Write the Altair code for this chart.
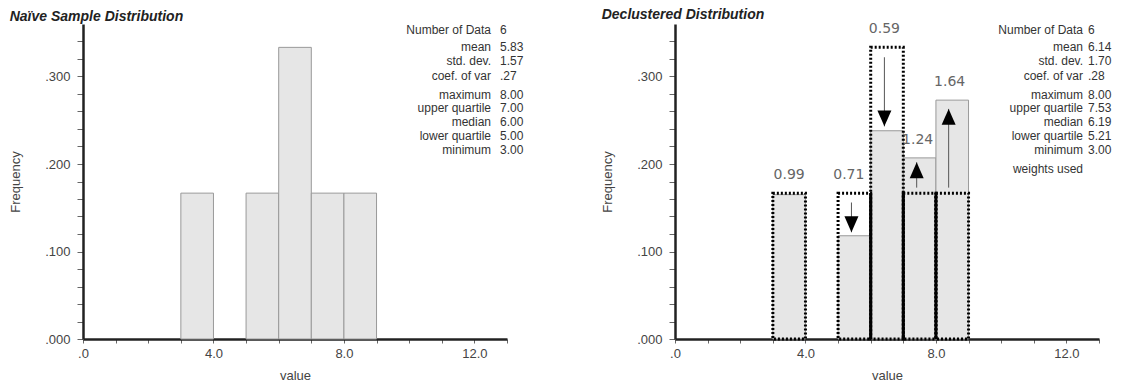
import altair as alt
import pandas as pd

# ---------------- data ----------------
bin_lo = [3, 5, 6, 7, 8]
bin_hi = [4, 6, 7, 8, 9]
naive_freq = [0.1667, 0.1667, 0.3333, 0.1667, 0.1667]
declus_freq = [0.165, 0.118, 0.238, 0.207, 0.273]
weight_text = ["0.99", "0.71", "0.59", "1.24", "1.64"]
weight_x = [3.50, 5.33, 6.42, 7.44, 8.42]

arrow_x = [5.41, 6.42, 7.41, 8.39]
arrow_from = [0.156, 0.322, 0.173, 0.173]
arrow_to = [0.122, 0.243, 0.202, 0.263]

stat_names = ["Number of Data", "mean", "std. dev.", "coef. of var", "maximum",
              "upper quartile", "median", "lower quartile", "minimum"]
naive_stats = ["6", "5.83", "1.57", ".27", "8.00", "7.00", "6.00", "5.00", "3.00"]
declus_stats = ["6", "6.14", "1.70", ".28", "8.00", "7.53", "6.19", "5.21", "3.00"]

# ---------------- layout constants ----------------
ROW_Y = [5.7, 23.3, 37.3, 51.7, 71, 84.3, 97.7, 111.7, 126, 145]  # px below plot top
H = 315
W = 424
Y_MAX = 0.36
FONT = "Liberation Sans"

x_ticks = list(range(14))
y_ticks = [round(i * 0.02, 2) for i in range(18)]

axis_common = dict(
    domainColor="#222", domainWidth=2.5, tickColor="#666", labelColor="#444",
    titleColor="#444", labelFontSize=13, titleFontSize=13, titleFontWeight="normal",
    grid=False, labelOverlap=False, labelFont=FONT, titleFont=FONT,
)
x_axis = alt.Axis(
    values=x_ticks,
    labelExpr="datum.value % 4 == 0 ? (datum.value == 0 ? '.0' : format(datum.value, '.1f')) : ''",
    title="value", tickSize=4, labelPadding=4, titlePadding=9, labelFlush=False,
    **axis_common,
)
y_axis = alt.Axis(
    values=y_ticks,
    labelExpr="abs(datum.value * 10 - round(datum.value * 10)) < 0.000001 ? substring(format(datum.value, '.3f'), 1) : ''",
    title="Frequency", tickSize=6, labelPadding=7, titlePadding=22,
    **axis_common,
)
x_scale = alt.Scale(domain=[0, 13], nice=False, zero=False)
y_scale = alt.Scale(domain=[0, Y_MAX], nice=False)

bins = pd.DataFrame({
    "lo": bin_lo, "hi": bin_hi, "naive": naive_freq, "declus": declus_freq,
    "wtext": weight_text, "wx": weight_x,
})
bins["top"] = bins[["naive", "declus"]].max(axis=1)


def X(field):
    return alt.X(field, scale=x_scale, axis=x_axis)


def Y(field):
    return alt.Y(field, scale=y_scale, axis=y_axis)


def stats_layers(names, values, label_right, value_left):
    df = pd.DataFrame({"name": names, "val": values})
    # row placement: pixel offset below the plot top, expressed on the shared y scale
    df["yd"] = [Y_MAX * (1 - r / H) for r in ROW_Y[:len(names)]]
    base = alt.Chart(df)
    labels = base.mark_text(align="right", baseline="middle", fontSize=12, color="#333", font=FONT).encode(
        x=alt.value(label_right), y=Y("yd:Q"), text="name:N")
    vals = base.mark_text(align="left", baseline="middle", fontSize=12, color="#333", font=FONT).encode(
        x=alt.value(value_left), y=Y("yd:Q"), text="val:N")
    return [labels, vals]


title_style = dict(anchor="start", fontSize=14, fontStyle="italic", fontWeight="bold",
                   color="#222", font=FONT, offset=0)

# ---------------- left panel ----------------
left_bars = alt.Chart(bins).mark_rect(fill="#e6e6e6", stroke="#999", strokeWidth=1).encode(
    x=X("lo:Q"), x2="hi:Q", y=Y("naive:Q"), y2=alt.datum(0),
)
left = alt.layer(left_bars, *stats_layers(stat_names, naive_stats, 408, 417)).properties(
    width=W, height=H, title=alt.TitleParams("Naïve Sample Distribution", **title_style))

# ---------------- right panel ----------------
right_bars = alt.Chart(bins).mark_rect(fill="#e6e6e6", stroke="#999", strokeWidth=1).encode(
    x=X("lo:Q"), x2="hi:Q", y=Y("declus:Q"), y2=alt.datum(0),
)
dotted = alt.Chart(bins).mark_rect(fillOpacity=0, stroke="black", strokeWidth=3, strokeDash=[2, 2]).encode(
    x=X("lo:Q"), x2="hi:Q", y=Y("naive:Q"), y2=alt.datum(0),
)
shared = pd.DataFrame({"edge": [e for e in bin_hi if e in bin_lo]})
shared["h"] = [min(naive_freq[bin_hi.index(e)], naive_freq[bin_lo.index(e)]) for e in shared["edge"]]
edges = alt.Chart(shared).mark_rule(color="black", strokeWidth=3).encode(
    x=X("edge:Q"), y=Y("h:Q"), y2=alt.datum(0),
)
arrows = pd.DataFrame({"ax": arrow_x, "a0": arrow_from, "a1": arrow_to})
arrow_lines = alt.Chart(arrows).mark_rule(color="#555", strokeWidth=1).encode(
    x=X("ax:Q"), y=Y("a0:Q"), y2="a1:Q",
)
head_down = alt.Chart(arrows).transform_filter("datum.a1 < datum.a0").mark_point(
    shape="M-1,-1.14L1,-1.14L0,1.14Z", size=196, filled=True, color="black", opacity=1, yOffset=-8
).encode(x=X("ax:Q"), y=Y("a1:Q"))
head_up = alt.Chart(arrows).transform_filter("datum.a1 > datum.a0").mark_point(
    shape="M-1,1.14L1,1.14L0,-1.14Z", size=196, filled=True, color="black", opacity=1, yOffset=8
).encode(x=X("ax:Q"), y=Y("a1:Q"))
wlabels = alt.Chart(bins).mark_text(font="DejaVu Sans", fontSize=14, color="#666", baseline="middle",
                                    align="center", dy=-18).encode(
    x=X("wx:Q"), y=Y("top:Q"), text="wtext:N",
)
right = alt.layer(
    right_bars, dotted, edges, arrow_lines, head_down, head_up, wlabels,
    *stats_layers(stat_names + ["weights used"], declus_stats + [""], 408, 413)
).properties(width=W, height=H,
             title=alt.TitleParams("Declustered Distribution", **title_style))

chart = alt.hconcat(left, right, spacing=168, bounds="flush").properties(
    padding={"left": 9, "top": 8, "right": 2, "bottom": 2}
).configure(font=FONT, background="white").configure_view(
    stroke="transparent", strokeWidth=0)

chart.save("out.html", embed_options={"renderer": "svg", "actions": False})
